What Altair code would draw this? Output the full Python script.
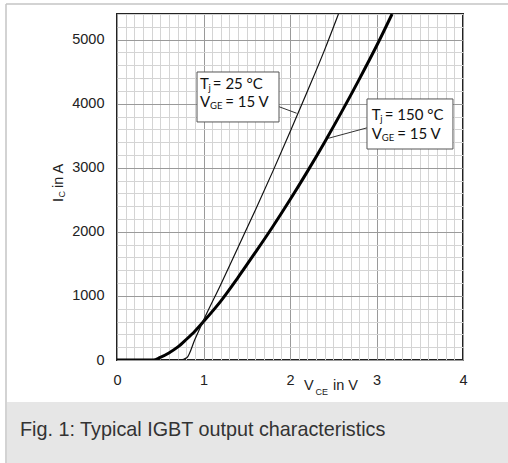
import altair as alt
import pandas as pd

# ---- data ----
vce_25 = [0.0, 0.73, 0.81, 0.9, 1.0, 1.2, 1.4, 1.6, 1.8, 2.0, 2.2, 2.4, 2.56]
ic_25 = [0, 0, 40, 320, 620, 1180, 1760, 2340, 2940, 3560, 4190, 4840, 5400]

vce_150 = [0.0, 0.42, 0.5, 0.6, 0.7, 0.8, 0.9, 1.0, 1.2, 1.4, 1.6, 1.8, 2.0,
           2.2, 2.4, 2.6, 2.8, 3.0, 3.18]
ic_150 = [0, 0, 40, 110, 200, 320, 450, 600, 920, 1290, 1680, 2080, 2500,
          2940, 3400, 3880, 4380, 4900, 5400]

x_ticks = [0, 1, 2, 3, 4]
y_ticks = [0, 1000, 2000, 3000, 4000, 5000]
caption = "Fig. 1: Typical IGBT output characteristics"

# ---- layout constants ----
W, H = 346, 346
XMAX, YMAX = 4, 5400
x_minor = [round(i * 0.1, 1) for i in range(41)]
y_minor = list(range(0, 5401, 200))

FONT = "Liberation Sans"
AFONT = "Lato"

x_axis = alt.Axis(
    values=x_minor, grid=True, ticks=False, domain=False, title=None,
    gridColor=alt.condition("abs(datum.value - round(datum.value)) < 0.001",
                            alt.value("#9a9a9a"), alt.value("#d4d4d4")),
    gridWidth=1,
    labelExpr="abs(datum.value - round(datum.value)) < 0.001 ? format(round(datum.value), 'd') : ''",
    labelFlush=False, labelOverlap=False, labelPadding=13,
    labelFont=FONT, labelFontSize=14.5, labelColor="#222",
)
y_axis = alt.Axis(
    values=y_minor, grid=True, ticks=False, domain=False, title=None,
    gridColor=alt.condition("datum.value % 1000 === 0",
                            alt.value("#9a9a9a"), alt.value("#d4d4d4")),
    gridWidth=1,
    labelExpr="datum.value % 1000 === 0 ? format(datum.value, 'd') : ''",
    labelFlush=False, labelOverlap=False, labelPadding=13,
    labelFont=FONT, labelFontSize=14.5, labelColor="#222",
)
xs = alt.Scale(domain=[0, XMAX], nice=False, zero=False)
ys = alt.Scale(domain=[0, YMAX], nice=False, zero=False)


def X(field):
    return alt.X(f"{field}:Q", scale=xs, axis=x_axis, title=None)


def Y(field):
    return alt.Y(f"{field}:Q", scale=ys, axis=y_axis, title=None)


def X2(field):
    return alt.X2(f"{field}:Q")


def Y2(field):
    return alt.Y2(f"{field}:Q")


df25 = pd.DataFrame({"v": vce_25, "i": ic_25})
df150 = pd.DataFrame({"v": vce_150, "i": ic_150})

# annotation geometry (data coordinates)
boxes = pd.DataFrame({"x0": [0.925, 2.890], "x1": [1.873, 3.884],
                      "y0": [3715, 3293], "y1": [4495, 4074]})
leaders = pd.DataFrame({"x0": [1.873, 2.898], "y0": [3953, 3626],
                        "x1": [2.077, 2.443], "y1": [3851, 3460]})
main_txt = pd.DataFrame({
    "t": ["T", "= 25 °C", "V", "= 15 V", "T", "= 150 °C", "V", "= 15 V"],
    "x": [0.960, 1.108, 0.960, 1.252, 2.945, 3.096, 2.945, 3.240],
    "y": [4308, 4308, 4022, 4022, 3824, 3824, 3527, 3527],
})
sub_txt = pd.DataFrame({
    "t": ["j", "GE", "j", "GE"],
    "x": [1.058, 1.075, 3.044, 3.060],
    "y": [4308, 4022, 3824, 3527],
})

line150 = alt.Chart(df150).mark_line(color="#000", strokeWidth=3, interpolate="monotone", clip=True).encode(
    x=X("v"), y=Y("i"))
line25 = alt.Chart(df25).mark_line(color="#111", strokeWidth=1.2, interpolate="monotone", clip=True).encode(
    x=X("v"), y=Y("i"))
lead = alt.Chart(leaders).mark_rule(color="#333", strokeWidth=1).encode(
    x=X("x0"), y=Y("y0"), x2=X2("x1"), y2=Y2("y1"))
box = alt.Chart(boxes).mark_rect(fill="white", stroke="#555", strokeWidth=1).encode(
    x=X("x0"), x2=X2("x1"), y=Y("y0"), y2=Y2("y1"))
t_main = alt.Chart(main_txt).mark_text(align="left", baseline="middle", font=AFONT,
                                       fontSize=15, color="#111").encode(
    x=X("x"), y=Y("y"), text="t:N")
t_sub = alt.Chart(sub_txt).mark_text(align="left", baseline="middle", font=AFONT,
                                     fontSize=9.5, color="#111", dy=4).encode(
    x=X("x"), y=Y("y"), text="t:N")


def ptext(txt, x, y, size, angle=0, font=FONT, color="#222"):
    kw = dict(align="left", baseline="middle", font=font, fontSize=size, color=color)
    if angle:
        kw["angle"] = angle
    return alt.Chart(alt.Data(values=[{}])).mark_text(**kw).encode(
        x=alt.value(x), y=alt.value(y), text=alt.value(txt))


# axis titles (pixel positions relative to the plot area)
xt1 = ptext("V", 187, 372, 14.5)
xt2 = ptext("CE", 198.5, 377.5, 9)
xt3 = ptext("in V", 216, 372, 14.5)
yt1 = ptext("I", -58, 188, 14.5, angle=270)
yt2 = ptext("C", -55, 183.5, 9, angle=270)
yt3 = ptext("in A", -58, 174, 14.5, angle=270)

# caption panel and outer frame
cap_bg = alt.Chart(alt.Data(values=[{}])).mark_rect(fill="#e6e6e6").encode(
    x=alt.value(-110), x2=alt.value(391), y=alt.value(388), y2=alt.value(449))
cap_txt = alt.Chart(alt.Data(values=[{}])).mark_text(
    align="left", baseline="alphabetic", font=FONT, fontSize=19.8, color="#333").encode(
    x=alt.value(-97), y=alt.value(421.5), text=alt.value(caption))
frame_top = alt.Chart(alt.Data(values=[{}])).mark_rule(color="#c4c4c4", strokeWidth=1.5).encode(
    x=alt.value(-111), x2=alt.value(391), y=alt.value(-10))
frame_left = alt.Chart(alt.Data(values=[{}])).mark_rule(color="#c4c4c4", strokeWidth=1.5).encode(
    x=alt.value(-111), y=alt.value(-10), y2=alt.value(449))

chart = alt.layer(
    cap_bg, cap_txt, frame_top, frame_left,
    lead, line150, line25, box, t_main, t_sub,
    xt1, xt2, xt3, yt1, yt2, yt3,
).properties(
    width=W, height=H,
    autosize=alt.AutoSizeParams(type="none"),
    padding={"left": 117, "top": 14, "right": 45, "bottom": 103},
    background="white",
).configure_view(stroke="#222", strokeWidth=2)

chart.save("out.html", embed_options={"renderer": "svg", "actions": False})
